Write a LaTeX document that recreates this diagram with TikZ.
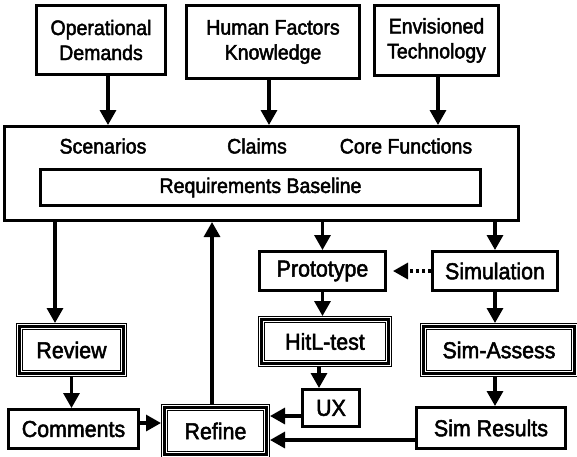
\documentclass[tikz,border=0pt]{standalone}
\usepackage{fontspec}
\newfontfamily\dfont{Liberation Sans}[FakeBold=2.2, FakeStretch=0.93]
\usetikzlibrary{arrows.meta}
\begin{document}
\begin{tikzpicture}[x=1pt,y=-1pt,
  box/.style={draw, line width=3pt, inner sep=0pt, align=center},
  tribox/.style={draw, line width=2.6pt, inner sep=0pt, outer sep=3.5pt, align=center,
    preaction={draw, black, line width=7pt},
    preaction={draw, white, line width=5pt}},
  topfont/.style={font=\dfont\fontsize{21}{25}\selectfont},
  lowfont/.style={font=\dfont\fontsize{23}{27}\selectfont},
  arr/.style={line width=3.2pt, -{Triangle[width=16pt,length=15pt]}},
  dotarr/.style={line width=3.2pt, dash pattern=on 3pt off 3pt, -{Triangle[width=16pt,length=15pt]}}
]
\useasboundingbox (0,0) rectangle (577,456);
% top boxes
\node[box, topfont, minimum width=129pt, minimum height=69pt] (op) at (101,40) {Operational\\Demands};
\node[box, topfont, minimum width=173pt, minimum height=73pt] (hf) at (273,42) {Human Factors\\Knowledge};
\node[box, topfont, minimum width=124pt, minimum height=70pt] (env) at (436.5,40.5) {Envisioned\\Technology};
% big box
\node[box, minimum width=514pt, minimum height=94pt] (big) at (261.5,173.5) {};
\node[topfont] (scen) at (103,146) {Scenarios};
\node[topfont] (claims) at (257,146) {Claims};
\node[topfont] (core) at (406,146) {Core Functions};
\node[box, topfont, minimum width=440pt, minimum height=36pt] (rb) at (260.5,187.5) {Requirements Baseline};
% lower boxes
\node[tribox, lowfont, minimum width=104pt, minimum height=47pt] (review) at (71.5,350) {Review};
\node[box, lowfont, minimum width=130pt, minimum height=39pt] (comments) at (73.5,429) {Comments};
\node[tribox, lowfont, minimum width=102pt, minimum height=47pt] (refine) at (215.5,431) {Refine};
\node[box, lowfont, minimum width=126pt, minimum height=39pt] (proto) at (322.5,271) {Prototype};
\node[box, lowfont, minimum width=125pt, minimum height=39pt] (sim) at (495,271) {Simulation};
\node[tribox, lowfont, minimum width=127pt, minimum height=44pt] (hitl) at (325,341.5) {HitL-test};
\node[box, lowfont, minimum width=57pt, minimum height=37pt] (ux) at (331,408) {UX};
\node[tribox, lowfont, minimum width=151pt, minimum height=47pt] (simassess) at (499,350) {Sim-Assess};
\node[box, lowfont, minimum width=149pt, minimum height=41pt] (simres) at (491,428) {Sim Results};
% connectors
\draw[arr] ([xshift=7pt]op.south) -- ([xshift=7pt]op.south |- big.north);
\draw[arr] ([xshift=-4pt]hf.south) -- ([xshift=-4pt]hf.south |- big.north);
\draw[arr] ([xshift=1.5pt]env.south) -- ([xshift=1.5pt]env.south |- big.north);
\draw[arr] ([xshift=-16.5pt]review.north |- big.south) -- ([xshift=-16.5pt]review.north);
\draw[arr] (review.south) -- (review.south |- comments.north);
\draw[arr] ([yshift=6pt]comments.east) -- ([yshift=6pt]comments.east -| refine.west);
\draw[arr] ([xshift=-3.5pt]refine.north) -- ([xshift=-3.5pt]refine.north |- big.south);
\draw[arr] (proto.north |- big.south) -- (proto.north);
\draw[arr] (sim.north |- big.south) -- (sim.north);
\draw[dotarr, shorten >=6pt] (sim.west) -- (proto.east);
\draw[arr] (proto.south) -- (proto.south |- hitl.north);
\draw[arr] ([xshift=-12pt]ux.north |- hitl.south) -- ([xshift=-12pt]ux.north);
\draw[arr] ([yshift=-8pt]ux.west) -- ([yshift=-8pt]ux.west -| refine.east);
\draw[arr] (sim.south) -- (sim.south |- simassess.north);
\draw[arr] (sim.south |- simassess.south) -- (sim.south |- simres.north);
\draw[arr] ([yshift=-12pt]simres.west) -- ([yshift=-12pt]simres.west -| refine.east);
\end{tikzpicture}
\end{document}
